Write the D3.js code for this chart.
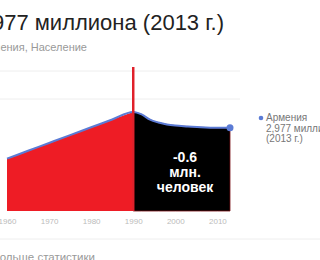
<!DOCTYPE html>
<html>
<head>
<meta charset="utf-8">
<script src="https://cdn.jsdelivr.net/npm/d3@7"></script>
<style>
  html, body { margin: 0; padding: 0; background: #fff; overflow: hidden; }
  svg { display: block; font-family: Arial, "Liberation Sans", sans-serif; }
</style>
</head>
<body>
<script>
// population of Armenia, millions
var years  = [1960, 1965, 1970, 1975, 1980, 1985, 1990, 1992, 1994, 1996, 1998, 2000, 2003, 2006, 2010, 2013];
var values = [1.87, 2.15, 2.43, 2.71, 2.99, 3.27, 3.54, 3.45, 3.26, 3.16, 3.09, 3.05, 3.02, 2.99, 2.97, 2.977];
var tickYears = [1960, 1970, 1980, 1990, 2000, 2010];
var gridValues = [4, 5];
var splitYear = 1990;

var W = 320, H = 260;
var svg = d3.select("body").append("svg").attr("width", W).attr("height", H);

var x = d3.scaleLinear().domain([1960, 2013]).range([7, 230]);
var y = d3.scaleLinear().domain([0, 5]).range([211, 71]);

var data = years.map(function(d, i) { return { year: d, v: values[i] }; });
var before = data.filter(function(d) { return d.year <= splitYear; });
var after = data.filter(function(d) { return d.year >= splitYear; });

// title
svg.append("text").attr("x", 224).attr("y", 30).attr("text-anchor", "end")
  .attr("font-size", 22).attr("fill", "#222").text("2,977 миллиона (2013 г.)");
svg.append("text").attr("x", 87).attr("y", 51).attr("text-anchor", "end")
  .attr("font-size", 11).attr("fill", "#999").text("Армения, Население");

// grid
svg.selectAll(".grid").data(gridValues).enter().append("line")
  .attr("x1", 0).attr("x2", 240)
  .attr("y1", function(d) { return y(d); }).attr("y2", function(d) { return y(d); })
  .attr("stroke", "#eee").attr("stroke-width", 1);

var area = d3.area().x(function(d) { return x(d.year); })
  .y0(y(0)).y1(function(d) { return y(d.v); }).curve(d3.curveMonotoneX);
var line = d3.line().x(function(d) { return x(d.year); })
  .y(function(d) { return y(d.v); }).curve(d3.curveMonotoneX);

svg.append("path").attr("d", area(before)).attr("fill", "#ee1c25");
svg.append("path").attr("d", area(after)).attr("fill", "#000")
  .attr("stroke", "#7a1015").attr("stroke-width", 0.8);

svg.append("path").attr("d", line(data)).attr("fill", "none")
  .attr("stroke", "#5b7bd5").attr("stroke-width", 2);

// spike at 1990
svg.append("line").attr("x1", x(splitYear)).attr("x2", x(splitYear))
  .attr("y1", 67).attr("y2", y(0))
  .attr("stroke", "#e0202a").attr("stroke-width", 2.5);

var last = data[data.length - 1];
svg.append("circle").attr("cx", x(last.year)).attr("cy", y(last.v)).attr("r", 3.5)
  .attr("fill", "#5b7bd5");

// annotation
var note = ["-0.6", "млн.", "человек"];
svg.selectAll(".note").data(note).enter().append("text")
  .attr("x", 185).attr("y", function(d, i) { return 162 + i * 15; })
  .attr("text-anchor", "middle").attr("font-size", 14).attr("font-weight", "bold")
  .attr("fill", "#fff").text(function(d) { return d; });

// x axis labels
var axis = d3.axisBottom(x).tickValues(tickYears).tickFormat(d3.format("d")).tickSize(0).tickPadding(7);
var gx = svg.append("g").attr("transform", "translate(0," + y(0) + ")").call(axis);
gx.select(".domain").remove();
gx.selectAll("text").attr("font-size", 8).attr("fill", "#bbb").attr("font-family", "Arial, sans-serif");

// legend
svg.append("circle").attr("cx", 261).attr("cy", 118).attr("r", 2.3).attr("fill", "#5b7bd5");
var legend = ["Армения", "2,977 миллиона", "(2013 г.)"];
svg.selectAll(".leg").data(legend).enter().append("text")
  .attr("x", 266).attr("y", function(d, i) { return 121 + i * 10.5; })
  .attr("font-size", 10).attr("fill", "#777").text(function(d) { return d; });

// footer
svg.append("line").attr("x1", 0).attr("x2", W).attr("y1", 239).attr("y2", 239)
  .attr("stroke", "#eee");
svg.append("text").attr("x", 95).attr("y", 261).attr("text-anchor", "end")
  .attr("font-size", 11.5).attr("fill", "#999").text("Больше статистики");
</script>
</body>
</html>
